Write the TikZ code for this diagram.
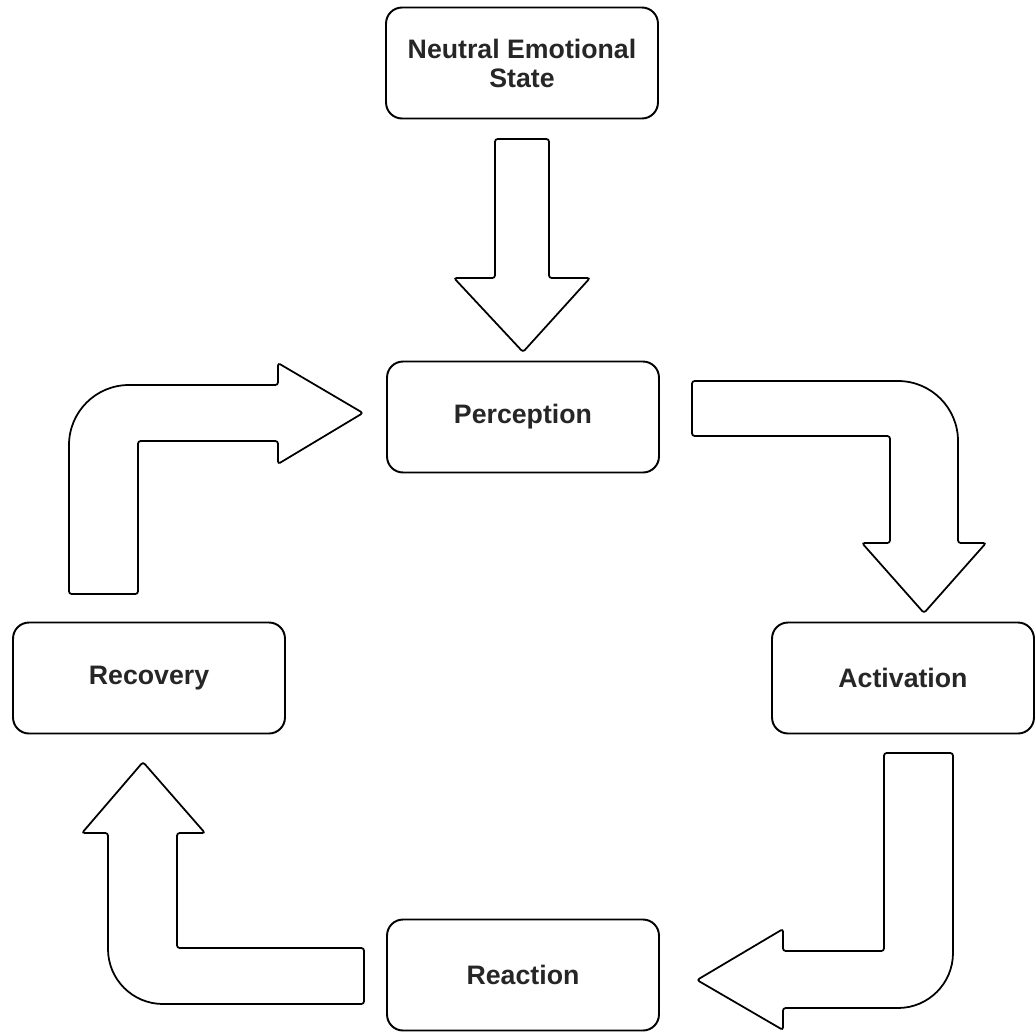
\documentclass[tikz,border=0pt]{standalone}
\usepackage{fontspec}
\setmainfont{Liberation Sans}
\usepackage{tikz}

\begin{document}
\begin{tikzpicture}[x=0.02cm,y=-0.02cm,
  stage/.style={draw,line width=1.1pt,rounded corners=0.32cm,minimum width=5.44cm,minimum height=2.22cm,align=center,inner sep=0pt,font=\fontsize{15.2}{16.5}\selectfont\bfseries,text=black!85},
  blockarrow/.style={draw,line width=1pt,fill=white,rounded corners=1.5pt}]
\useasboundingbox (0,0) rectangle (1035,1032);

\node[stage] (neutral) at (522,63){Neutral Emotional\\State};
\node[stage] (perc) at (523,417){Perception};
\node[stage,minimum width=5.24cm] (activ) at (903,678){Activation};
\node[stage,minimum width=5.44cm] (reac) at (523,975){Reaction};
\node[stage] (recov) at (149,678){Recovery};

%neutral -> perception
\draw[blockarrow] (495,139)--(549,139)--(549,278)--(590,278)--(523,352)--(454,278)--(495,278)--cycle;
%perception -> activation
\draw[blockarrow] (692,381)[rounded corners=1.2cm]--(958,381)[rounded corners=1.5pt]--(958,543)--(986,543)--(924,613)--(862,543)--(890,543)--(890,436)--(692,436)--cycle;
%activation -> reaction
\draw[blockarrow] (884,753)--(953,753)[rounded corners=1.1cm]--(953,1008)[rounded corners=1.5pt]--(783,1008)--(783,1030)--(697,980)--(783,929)--(783,951)--(884,951)--cycle;
%reaction -> recovery
\draw[blockarrow] (364,948)--(364,1004)[rounded corners=1.1cm]--(108,1004)[rounded corners=1.5pt]--(108,833)--(82,833)--(143,762)--(205,833)--(177,833)--(177,948)--cycle;
%recovery -> perception
\draw[blockarrow] (69,594)[rounded corners=1.2cm]--(69,385)[rounded corners=1.5pt]--(278,385)--(278,363)--(363,413)--(278,464)--(278,441)--(138,441)--(138,594)--cycle;
\end{tikzpicture}
\end{document}
